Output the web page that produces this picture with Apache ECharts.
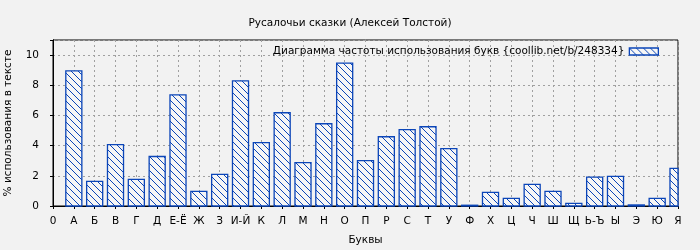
<!DOCTYPE html>
<html><head><meta charset="utf-8">
<script src="https://cdn.jsdelivr.net/npm/echarts@6/dist/echarts.min.js"></script>
<style>html,body{margin:0;padding:0;background:#f2f2f2}#c{width:700px;height:250px}</style>
</head><body><div id="c"></div>
<script>
const tickLabels = ['0','А','Б','В','Г','Д','Е-Ё','Ж','З','И-Й','К','Л','М','Н','О','П','Р','С','Т','У','Ф','Х','Ц','Ч','Ш','Щ','Ь-Ъ','Ы','Э','Ю','Я'];
const letters = tickLabels.slice(1);
const values = [8.95,1.63,4.07,1.76,3.28,7.36,0.97,2.09,8.29,4.2,6.18,2.88,5.45,9.47,3.01,4.59,5.06,5.25,3.8,0.05,0.9,0.51,1.43,0.97,0.18,1.91,1.96,0.07,0.51,2.49];
const yTicks = [0,2,4,6,8,10];
const titleText = 'Русалочьи сказки (Алексей Толстой)';
const seriesName = 'Диаграмма частоты использования букв {coollib.net/b/248334}';
const xName = 'Буквы';
const yName = '% использования в тексте';

const blue = '#0b45b8';
const pc = document.createElement('canvas');
pc.width = 7; pc.height = 7;
const g = pc.getContext('2d');
g.fillStyle = '#f6f6f6'; g.fillRect(0,0,7,7);
g.strokeStyle = blue; g.lineWidth = 1;
g.beginPath();
g.moveTo(-1,-1); g.lineTo(8,8);
g.moveTo(-8,-1); g.lineTo(1,8);
g.moveTo(6,-1); g.lineTo(15,8);
g.stroke();
const pattern = {image: pc, repeat: 'repeat'};

const font = 'DejaVu Sans';
const fs = 10.5;
const chart = echarts.init(document.getElementById('c'));
chart.setOption({
  backgroundColor: '#f2f2f2',
  animation: false,
  textStyle: {fontFamily: font},
  title: {text: titleText, left: 'center', top: 13, textStyle: {fontSize: fs, fontWeight: 'normal', color: '#000', fontFamily: font}},
  legend: {right: 36, top: 41, itemWidth: 29, itemHeight: 7, align: 'right', itemGap: 8, icon: 'rect',
    itemStyle: {color: pattern, borderColor: blue, borderWidth: 1.3},
    textStyle: {fontSize: fs, color: '#000', fontFamily: font}, data: [seriesName]},
  grid: {left: 53, right: 22, top: 40, bottom: 44, containLabel: false, outerBoundsMode: 'none',
    show: true, borderColor: '#000', borderWidth: 1, backgroundColor: 'transparent'},
  xAxis: [{
    type: 'value', min: 0, max: 30, interval: 1, position: 'bottom',
    name: xName, nameLocation: 'middle', nameGap: 29,
    nameTextStyle: {fontSize: fs, color: '#000'},
    axisLine: {show: true, lineStyle: {color: '#000', width: 1}},
    axisTick: {show: true, length: 3, lineStyle: {color: '#000'}},
    axisLabel: {fontSize: fs, color: '#000', margin: 10, showMaxLabel: true, showMinLabel: true,
      formatter: v => tickLabels[Math.round(v)]},
    splitLine: {show: true, lineStyle: {color: '#a0a0a0', type: [2,3]}}
  }, {
    type: 'value', min: 0, max: 30, interval: 1, position: 'top',
    axisLine: {show: true, lineStyle: {color: '#000'}},
    axisTick: {show: true, inside: true, length: 3, lineStyle: {color: '#000'}},
    axisLabel: {show: false}, splitLine: {show: false}
  }],
  yAxis: [{
    type: 'value', min: 0, max: 11, interval: 2,
    name: yName, nameLocation: 'middle', nameGap: 39, nameRotate: 90,
    nameTextStyle: {fontSize: fs, color: '#000'},
    axisLine: {show: true, lineStyle: {color: '#000', width: 1}},
    axisTick: {show: true, length: 3, lineStyle: {color: '#000'}},
    axisLabel: {fontSize: fs, color: '#000', margin: 14, showMaxLabel: false},
    splitLine: {show: true, lineStyle: {color: '#a0a0a0', type: [2,3]}}
  }, {
    type: 'value', min: 0, max: 11, interval: 2, position: 'right',
    axisLine: {show: true, lineStyle: {color: '#000'}},
    axisTick: {show: true, inside: true, length: 3, lineStyle: {color: '#000'}},
    axisLabel: {show: false}, splitLine: {show: false}
  }],
  series: [{
    name: seriesName, type: 'custom', z: 3,
    itemStyle: {color: pattern, borderColor: blue, borderWidth: 1.3},
    data: values.map((v, i) => [i + 1, v]),
    renderItem: function (params, api) {
      const x = api.value(0), y = api.value(1);
      const p0 = api.coord([x, 0]);
      const p1 = api.coord([x, y]);
      const w = api.size([0.77, 0])[0];
      const cs = params.coordSys;
      const shape = echarts.graphic.clipRectByRect(
        {x: p0[0] - w / 2, y: p1[1], width: w, height: p0[1] - p1[1]},
        {x: cs.x, y: cs.y, width: cs.width, height: cs.height});
      if (!shape) return null;
      return {type: 'rect', shape: shape,
        style: {fill: pattern, stroke: blue, lineWidth: 1.3}};
    }
  }]
});
</script></body></html>
